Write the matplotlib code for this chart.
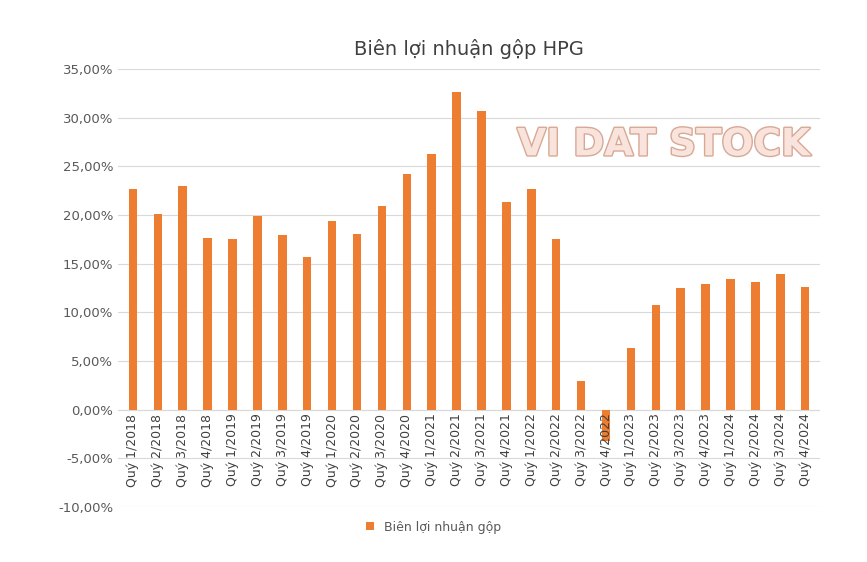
import matplotlib
matplotlib.use("Agg")
import matplotlib.pyplot as plt
import matplotlib.patheffects as pe
from matplotlib.ticker import FuncFormatter, MultipleLocator

quarters = [f"Quý {q}/{y}" for y in range(2018, 2025) for q in range(1, 5)]
values = [22.7, 20.1, 23.0, 17.6, 17.5, 19.9, 18.0, 15.7, 19.4, 18.1, 20.9, 24.2,
          26.3, 32.7, 30.7, 21.3, 22.7, 17.5, 2.9, -3.2, 6.3, 10.8, 12.5, 12.9,
          13.4, 13.1, 13.9, 12.6]
series_name = "Biên lợi nhuận gộp"

fig = plt.figure(figsize=(8.67, 5.62), dpi=100)
ax = fig.add_axes([0.136, 0.098, 0.81, 0.779])
x = range(len(quarters))
ax.bar(x, values, width=0.34, color="#ED7D31", label=series_name, zorder=3)
ax.set_ylim(-10, 35)
ax.set_xlim(-0.6, len(quarters) - 0.4)
ax.yaxis.set_major_locator(MultipleLocator(5))
ax.yaxis.set_major_formatter(FuncFormatter(lambda v, p: f"{v:.2f}%".replace(".", ",")))
ax.grid(axis="y", color="#D9D9D9", lw=0.8, zorder=0)
for s in ax.spines.values():
    s.set_visible(False)
ax.tick_params(length=0, labelsize=9.5, colors="#595959")
ax.set_xticks(list(x))
ax.set_xticklabels([])
for i, q in enumerate(quarters):
    ax.text(i, -0.4, q, rotation=90, ha="center", va="top", fontsize=9,
            color="#404040", zorder=4)
ax.axhline(0, color="#D9D9D9", lw=0.8, zorder=2)
ax.set_title("Biên lợi nhuận gộp HPG", fontsize=14, color="#404040", pad=10)
ax.text(0.986, 0.826, "VI DAT STOCK", transform=ax.transAxes, ha="right", va="center",
        fontsize=27, fontweight="bold", color="#F8E4DC",
        path_effects=[pe.withStroke(linewidth=2, foreground="#D9A894")], zorder=5)
fig.legend(*ax.get_legend_handles_labels(), loc="center", bbox_to_anchor=(0.5, 0.062),
           frameon=False, fontsize=9, handlelength=0.6, handleheight=0.6,
           labelcolor="#595959")
fig.savefig("out.png", dpi=100)
